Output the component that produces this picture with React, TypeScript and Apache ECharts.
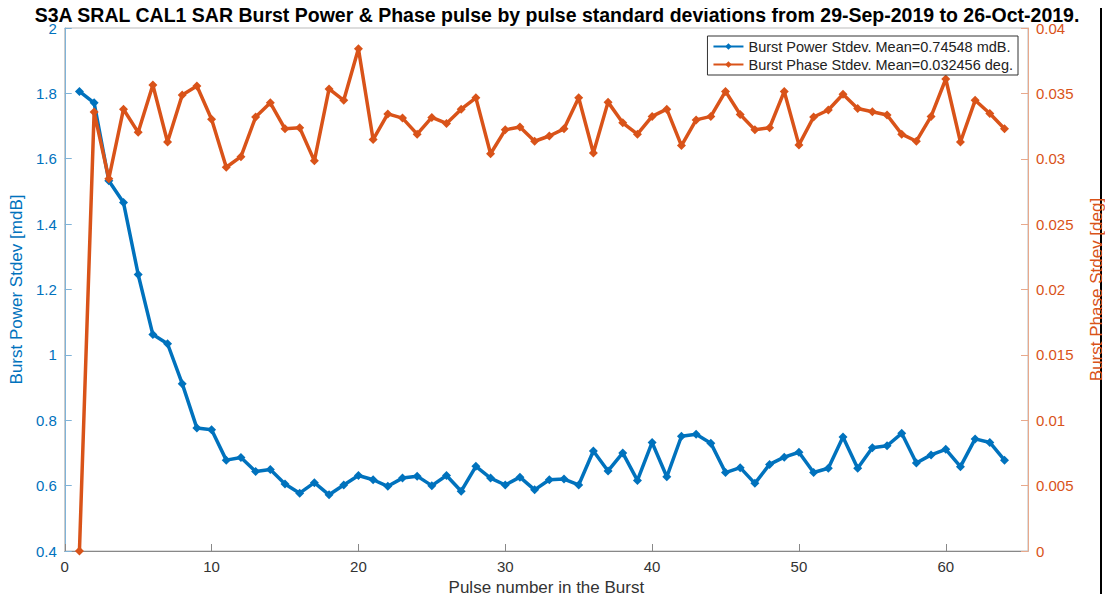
import React, { useEffect, useRef } from 'react';
import * as echarts from 'echarts';

const pulses = Array.from({ length: 64 }, (_, i) => i + 1);

const powerStdev = [
  1.806, 1.771, 1.533, 1.466, 1.246, 1.062, 1.034, 0.912, 0.776, 0.771,
  0.678, 0.686, 0.643, 0.649, 0.605, 0.577, 0.609, 0.572, 0.602, 0.631,
  0.618, 0.598, 0.623, 0.629, 0.600, 0.631, 0.583, 0.659, 0.623, 0.602,
  0.626, 0.587, 0.618, 0.620, 0.602, 0.706, 0.645, 0.700, 0.616, 0.732,
  0.627, 0.751, 0.757, 0.730, 0.640, 0.655, 0.607, 0.665, 0.687, 0.702,
  0.640, 0.653, 0.749, 0.653, 0.716, 0.722, 0.760, 0.669, 0.694, 0.711,
  0.658, 0.743, 0.732, 0.678,
];

const phaseStdev = [
  0, 0.03357, 0.02847, 0.03379, 0.03202, 0.03564, 0.03128, 0.03488, 0.03556, 0.03302,
  0.02935, 0.03016, 0.03319, 0.03428, 0.03229, 0.03237, 0.02984, 0.03534, 0.03447, 0.03842,
  0.03147, 0.03343, 0.03311, 0.03188, 0.03316, 0.03270, 0.03379, 0.03466, 0.03038, 0.03221,
  0.03243, 0.03134, 0.03174, 0.03229, 0.03466, 0.03044, 0.03433, 0.03275, 0.03188, 0.03324,
  0.03379, 0.03101, 0.03297, 0.03324, 0.03515, 0.03338, 0.03221, 0.03237, 0.03515, 0.03106,
  0.03319, 0.03373, 0.03493, 0.03384, 0.03360, 0.03335, 0.03188, 0.03134, 0.03324, 0.03610,
  0.03128, 0.03447, 0.03346, 0.03229,
];

const BLUE = '#0072BD';
const ORANGE = '#D95319';

const App = () => {
  const chartRef = useRef<HTMLDivElement>(null);

  useEffect(() => {
    const chartDom = chartRef.current;
    if (!chartDom) return;
    const myChart = echarts.init(chartDom, null, { renderer: 'svg' });

    const font = 'Liberation Sans, Arial, sans-serif';
    const option = {
      animation: false,
      textStyle: { fontFamily: font },
      title: {
        text: 'S3A SRAL CAL1 SAR Burst Power & Phase pulse by pulse standard deviations from 29-Sep-2019 to 26-Oct-2019.',
        left: 552,
        textAlign: 'center',
        top: 0,
        textStyle: { fontSize: 19.5, fontWeight: 'bold', color: '#000', fontFamily: font },
      },
      legend: {
        orient: 'vertical',
        right: 95,
        top: 36,
        itemGap: 3,
        itemWidth: 30,
        itemHeight: 8,
        padding: [3, 5],
        borderColor: '#333',
        borderWidth: 1,
        backgroundColor: '#fff',
        textStyle: { fontSize: 14.5, color: '#222', fontFamily: font },
        data: [
          'Burst Power Stdev. Mean=0.74548 mdB.',
          'Burst Phase Stdev. Mean=0.032456 deg.',
        ],
      },
      grid: {
        left: 63,
        right: 83,
        top: 28,
        bottom: 51,
        show: true,
        borderColor: '#bbb',
        borderWidth: 1,
      },
      xAxis: {
        type: 'value',
        min: 0,
        max: 65.6,
        interval: 10,
        name: 'Pulse number in the Burst',
        nameLocation: 'middle',
        nameGap: 26,
        nameTextStyle: { fontSize: 17, color: '#333' },
        axisLine: { lineStyle: { color: '#888' } },
        axisTick: { inside: true, length: 7, lineStyle: { color: '#888' } },
        axisLabel: { fontSize: 15, color: '#333', margin: 8, showMaxLabel: false },
        splitLine: { show: false },
      },
      yAxis: [
        {
          type: 'value',
          min: 0.4,
          max: 2,
          interval: 0.2,
          name: 'Burst Power Stdev [mdB]',
          nameLocation: 'middle',
          nameGap: 36,
          nameRotate: 90,
          nameTextStyle: { fontSize: 17, color: BLUE },
          axisLine: { show: true, lineStyle: { color: '#7fb3d8' } },
          axisTick: { inside: true, length: 7, lineStyle: { color: '#7fb3d8' } },
          axisLabel: {
            fontSize: 15,
            color: BLUE,
            formatter: (v: number) => String(parseFloat(v.toFixed(1))),
          },
          splitLine: { show: false },
        },
        {
          type: 'value',
          min: 0,
          max: 0.04,
          interval: 0.005,
          position: 'right',
          name: 'Burst Phase Stdev [deg]',
          nameLocation: 'middle',
          nameGap: 60,
          nameRotate: 90,
          nameTextStyle: { fontSize: 17, color: ORANGE },
          axisLine: { show: true, lineStyle: { color: '#e8a98c' } },
          axisTick: { inside: true, length: 7, lineStyle: { color: '#e8a98c' } },
          axisLabel: {
            fontSize: 15,
            color: ORANGE,
            formatter: (v: number) => String(parseFloat(v.toFixed(3))),
          },
          splitLine: { show: false },
        },
      ],
      graphic: [
        { type: 'line', shape: { x1: 1101, y1: 0, x2: 1101, y2: 602 }, style: { stroke: '#000', lineWidth: 2 } },
      ],
      series: [
        {
          name: 'Burst Power Stdev. Mean=0.74548 mdB.',
          type: 'line',
          yAxisIndex: 0,
          data: pulses.map((p, i) => [p, powerStdev[i]]),
          symbol: 'diamond',
          symbolSize: 9,
          lineStyle: { color: BLUE, width: 3.5 },
          itemStyle: { color: BLUE },
        },
        {
          name: 'Burst Phase Stdev. Mean=0.032456 deg.',
          type: 'line',
          yAxisIndex: 1,
          data: pulses.map((p, i) => [p, phaseStdev[i]]),
          symbol: 'diamond',
          symbolSize: 9,
          lineStyle: { color: ORANGE, width: 3.5 },
          itemStyle: { color: ORANGE },
        },
      ],
    };

    myChart.setOption(option);
    return () => {
      myChart.dispose();
    };
  }, []);

  return <div ref={chartRef} style={{ width: '1113px', height: '602px', margin: '-8px' }}></div>;
};

export default App;
